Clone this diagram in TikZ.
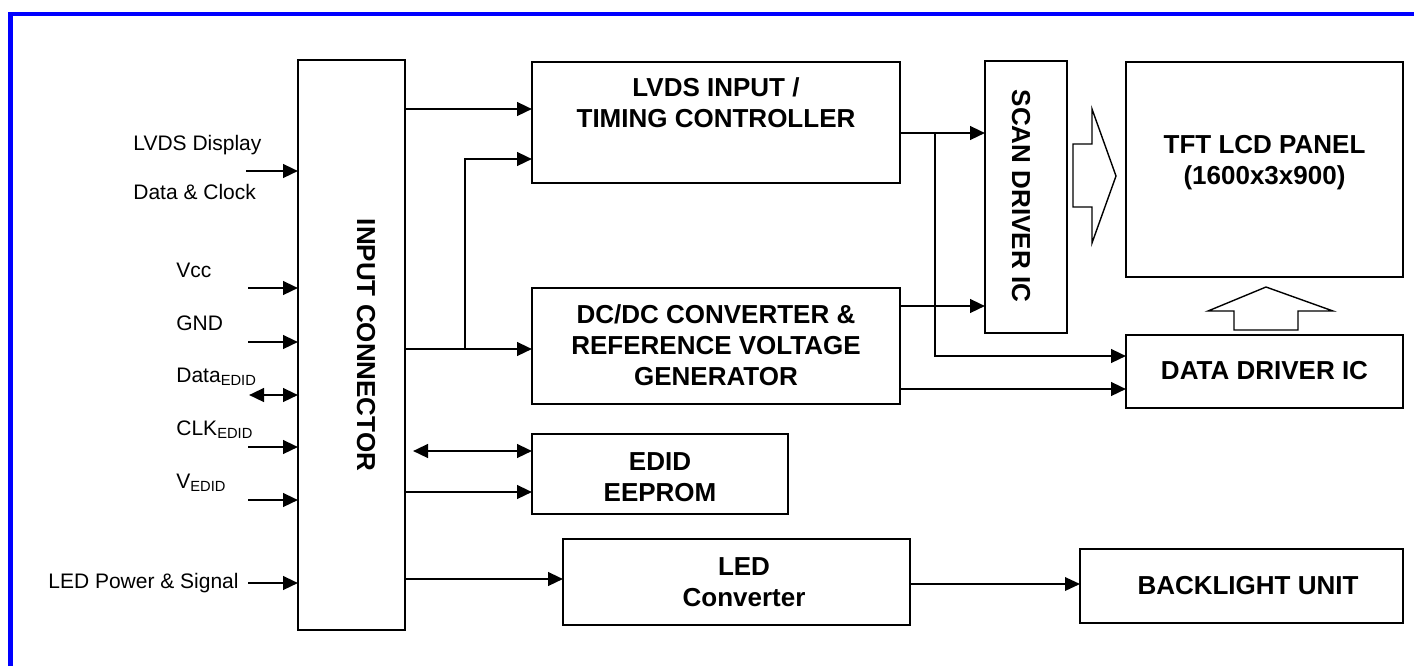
\documentclass[tikz,border=0pt]{standalone}
\usepackage{fontspec}
\setmainfont{Liberation Sans}
\usetikzlibrary{arrows.meta}

\begin{document}
\begin{tikzpicture}[x=0.5pt, y=-0.5pt,
  blk/.style={draw, line width=1.25pt, inner sep=0pt, outer sep=0pt},
  btxt/.style={font=\fontsize{13}{15.5}\selectfont\bfseries, align=center, inner sep=0pt},
  lbl/.style={font=\fontsize{10.5}{12.6}\selectfont, inner sep=0pt, anchor=west},
  arr/.style={line width=1.25pt, -{Triangle[length=7.5pt, width=6.8pt]}},
  dblarr/.style={line width=1.25pt, {Triangle[length=7.5pt, width=6.8pt]}-{Triangle[length=7.5pt, width=6.8pt]}},
  hollow/.style={draw, line width=0.7pt, line join=miter}]
\useasboundingbox (0,0) rectangle (1414,666);
\draw[blue, line width=2.3pt] (10.5,666) -- (10.5,14) -- (1414,14);

\node[blk, minimum width=53.5pt, minimum height=285pt] (conn) at (351.5,345) {};
\node[btxt, rotate=-90] (conntxt) at (366,345) {INPUT CONNECTOR};

\node[blk, minimum width=184pt, minimum height=60.5pt] (lvds) at (716,122.5) {};
\node[btxt] (lvdstxt) at (716,103) {LVDS INPUT /\\TIMING CONTROLLER};
\node[blk, minimum width=184pt, minimum height=58pt] (dcdc) at (716,346) {};
\node[btxt] (dcdctxt) at (716,345) {DC/DC CONVERTER \&\\REFERENCE VOLTAGE\\GENERATOR};
\node[blk, minimum width=41pt, minimum height=136pt] (scan) at (1026,197) {};
\node[btxt, rotate=-90] (scantxt) at (1021,196) {SCAN DRIVER IC};
\node[blk, minimum width=138.5pt, minimum height=107.5pt] (tft) at (1264.5,169.5) {};
\node[btxt] (tfttxt) at (1264.5,163) {TFT LCD PANEL\\(1600x3x900)};
\node[blk, minimum width=138.5pt, minimum height=36.5pt] (ddrv) at (1264.5,371.5) {};
\node[btxt] (ddrvtxt) at (1264.5,371) {DATA DRIVER IC};
\node[blk, minimum width=128pt, minimum height=40pt] (edid) at (660,474) {};
\node[btxt] (edidtxt) at (660,477) {EDID\\EEPROM};
\node[blk, minimum width=173.5pt, minimum height=43pt] (ledc) at (736.5,582) {};
\node[btxt] (ledctxt) at (744,582) {LED\\Converter};
\node[blk, minimum width=161.5pt, minimum height=37pt] (blu) at (1241.5,586) {};
\node[btxt] (blutxt) at (1248,586) {BACKLIGHT UNIT};

\node[lbl] (lvdsa) at (133,145) {LVDS Display};
\node[lbl] (lvdsb) at (133,192) {Data \& Clock};
\node[lbl] (vcc) at (176,270) {Vcc};
\node[lbl] (gnd) at (176,323) {GND};
\node[lbl] (dataedid) at (176,377) {Data\textsubscript{EDID}};
\node[lbl] (clkedid) at (176,430) {CLK\textsubscript{EDID}};
\node[lbl] (vedid) at (176,483) {V\textsubscript{EDID}};
\node[lbl, anchor=east] (ledpw) at (239,583) {LED Power \& Signal};

\coordinate (lvdsin) at (246,171);
\coordinate (vccin) at (248,288);
\coordinate (gndin) at (248,342);
\coordinate (datain) at (249,395);
\coordinate (clkin) at (248,447);
\coordinate (vedidin) at (248,500);
\coordinate (split) at (465,349);
\coordinate (tap) at (935,133);

\draw[arr] (lvdsin) -- (conn.west |- lvdsin);
\draw[arr] (vccin) -- (conn.west |- vccin);
\draw[arr] (gndin) -- (conn.west |- gndin);
\draw[dblarr] (datain) -- (conn.west |- datain);
\draw[arr] (clkin) -- (conn.west |- clkin);
\draw[arr] (vedidin) -- (conn.west |- vedidin);
\draw[arr] ([xshift=4.5pt]ledpw.east) -- (conn.west |- ledpw.east);

\draw[arr] (conn.east |- 0,109) -- (lvds.west |- 0,109);
\draw[arr] (conn.east |- split) -- (dcdc.west |- split);
\draw[arr] (split) |- (lvds.west |- 0,159);
\draw[arr] (lvds.east |- tap) -- (scan.west |- tap);
\draw[arr] (tap) |- (ddrv.west |- 0,356);
\draw[arr] (dcdc.east |- 0,306) -- (scan.west |- 0,306);
\draw[arr] (dcdc.east |- 0,389) -- (ddrv.west |- 0,389);
\draw[dblarr, shorten <=4pt] (conn.east |- 0,451) -- (edid.west |- 0,451);
\draw[arr] (conn.east |- 0,492) -- (edid.west |- 0,492);
\draw[arr] (conn.east |- 0,579) -- (ledc.west |- 0,579);
\draw[arr, line width=0.8pt] (ledc.east |- 0,584) -- (blu.west |- 0,584);

\draw[hollow] (1073,144) -- (1092,144) -- (1092,109) -- (1116,176) -- (1092,243) -- (1092,207) -- (1073,207) -- cycle;
\draw[hollow] (1234,330) -- (1234,311) -- (1208,311) -- (1266,287) -- (1333,311) -- (1298,311) -- (1298,330) -- cycle;
\end{tikzpicture}
\end{document}
